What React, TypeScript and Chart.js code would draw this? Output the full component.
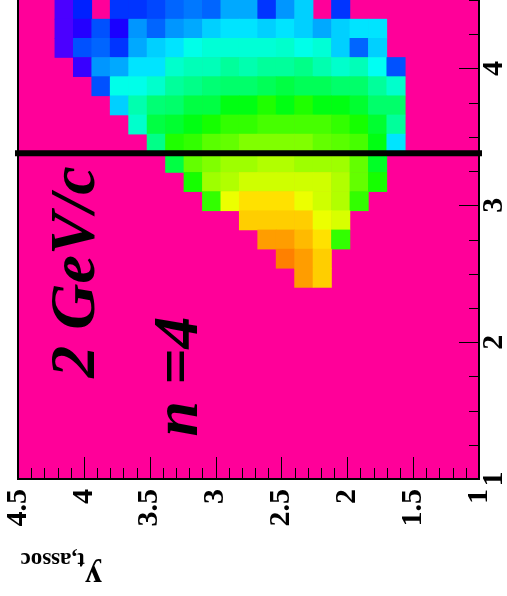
import React, { useEffect, useRef } from 'react';
import { Chart, registerables } from 'chart.js';

Chart.register(...registerables);

// ---- axes / binning ----
const axisMin = 1;
const axisMax = 4.5;
const binWidth = 0.14; // 25 bins between 1 and 4.5
const xTickValues = [1, 1.5, 2, 2.5, 3, 3.5, 4, 4.5];
const yTickValues = [1, 2, 3, 4];
const cutValue = 3.38;

// ---- z values (0 = lowest / violet, 100 = highest / orange) ----
// rows counted from the top of the frame, columns counted from the left edge (x = 4.5)
const rowStart = [2, 2, 2, 3, 4, 5, 6, 7, 8, 9, 10, 12, 13, 14, 15];
const zRow00 = [1, 12, null, 14, 14, 16, 19, 21, 19, 26, 26, 14, 24, 30, null, 14];
const zRow01 = [1, 5, 17, 6, 24, 19, 24, 26, 30, 32, 32, 30, 32, 30, 26, 30, 32, 32];
const zRow02 = [1, 17, 19, 14, 26, 30, 32, 37, 39, 39, 39, 39, 40, 37, 39, 30, 19, 30];
const zRow03 = [3, 24, 26, 32, 32, 40, 42, 42, 45, 43, 45, 45, 47, 43, 40, 42, 36, 17];
const zRow04 = [17, 37, 37, 40, 45, 47, 49, 50, 50, 52, 54, 52, 52, 50, 50, 45, 40];
const zRow05 = [30, 43, 49, 50, 54, 54, 59, 59, 64, 59, 64, 59, 59, 56, 50, 50];
const zRow06 = [40, 54, 56, 59, 63, 66, 66, 68, 68, 68, 68, 66, 63, 56, 45];
const zRow07 = [47, 64, 66, 70, 71, 74, 74, 74, 74, 71, 70, 68, 59, 32];
const zRow08 = [54, 71, 74, 77, 77, 79, 79, 77, 77, 77, 71, 57];
const zRow09 = [63, 77, 79, 82, 82, 82, 82, 82, 79, 71, 63];
const zRow10 = [66, 85, 90, 90, 90, 85, 82, 79, 66];
const zRow11 = [92, 92, 92, 92, 85, 83];
const zRow12 = [97, 97, 94, 90, 66];
const zRow13 = [100, 97, 92];
const zRow14 = [97, 92];
const zRows: (number | null)[][] = [
  zRow00, zRow01, zRow02, zRow03, zRow04, zRow05, zRow06, zRow07,
  zRow08, zRow09, zRow10, zRow11, zRow12, zRow13, zRow14,
];

const PINK = 'rgb(255,0,153)';
const SERIF = '"Liberation Serif", "Times New Roman", serif';

function zColor(z: number | undefined) {
  if (z === undefined || z === null) return PINK;
  return `hsl(${260 - 2.3 * z}, 100%, 50%)`;
}

type Cell = { x: number; y: [number, number]; z: number };
const cells: Cell[] = [];
zRows.forEach((row, r) => {
  row.forEach((z, k) => {
    if (z === null) return;
    const c = rowStart[r] + k;
    cells.push({
      x: axisMax - binWidth * (c + 0.5),
      y: [axisMax - binWidth * (r + 1), axisMax - binWidth * r],
      z,
    });
  });
});

const rootPlugin = {
  id: 'rootStyle',
  beforeDatasetsDraw(chart: any) {
    const { ctx, chartArea: a } = chart;
    ctx.save();
    ctx.fillStyle = PINK;
    ctx.fillRect(a.left, a.top, a.right - a.left, a.bottom - a.top);
    ctx.restore();
  },
  afterDatasetsDraw(chart: any) {
    const { ctx, chartArea: a } = chart;
    const xs = chart.scales.x;
    const ys = chart.scales.y;
    ctx.save();
    // frame
    ctx.strokeStyle = '#000';
    ctx.lineWidth = 2;
    ctx.beginPath();
    ctx.moveTo(a.left, a.top - 5);
    ctx.lineTo(a.left, a.bottom);
    ctx.lineTo(a.right, a.bottom);
    ctx.lineTo(a.right, a.top - 5);
    ctx.stroke();
    // inner ticks
    ctx.lineWidth = 1;
    ctx.beginPath();
    for (let i = 0; i <= 35; i++) {
      const px = Math.round(xs.getPixelForValue(axisMin + i / 10)) + 0.5;
      const len = i % 5 === 0 ? 22 : 11;
      ctx.moveTo(px, a.bottom);
      ctx.lineTo(px, a.bottom - len);
    }
    for (let i = 0; i <= 14; i++) {
      const py = Math.round(ys.getPixelForValue(axisMin + i * 0.25)) + 0.5;
      const len = i % 4 === 0 ? 20 : 10;
      ctx.moveTo(a.right, py);
      ctx.lineTo(a.right - len, py);
    }
    ctx.stroke();

    // annotations
    ctx.fillStyle = '#000';
    ctx.textAlign = 'left';
    ctx.textBaseline = 'alphabetic';
    const rot = (text: string, x: number, y: number) => {
      ctx.save();
      ctx.translate(x, y);
      ctx.rotate(-Math.PI / 2);
      ctx.fillText(text, 0, 0);
      ctx.restore();
    };
    ctx.font = `italic bold 64px ${SERIF}`;
    rot('2 GeV/c', xs.getPixelForValue(3.92), ys.getPixelForValue(1.74));
    rot('n =4', xs.getPixelForValue(3.14), ys.getPixelForValue(1.31));

    // axis title (upside down)
    ctx.save();
    ctx.translate(a.left + 84, a.bottom + 87);
    ctx.rotate(Math.PI);
    ctx.font = `bold 34px ${SERIF}`;
    ctx.fillText('y', 0, 0);
    const w = ctx.measureText('y').width;
    ctx.font = `bold 23px ${SERIF}`;
    ctx.fillText('t,assoc', w, 13.5);
    ctx.restore();

    ctx.restore();
  },
};

export default function App() {
  const ref = useRef<HTMLCanvasElement | null>(null);
  useEffect(() => {
    if (!ref.current) return;
    const tickFont = { family: SERIF, size: 30, weight: 'bold' as const };
    const chart = new Chart(ref.current, {
      type: 'bar',
      data: {
        datasets: [
          {
            type: 'line',
            order: 0,
            data: [
              { x: axisMax, y: cutValue },
              { x: axisMin, y: cutValue },
            ],
            borderColor: '#000',
            borderWidth: 6,
            borderCapStyle: 'square',
            pointRadius: 0,
            clip: false,
          } as any,
          {
            type: 'bar',
            order: 1,
            data: cells as any,
            backgroundColor: (c: any) => zColor(c.raw ? c.raw.z : undefined),
            borderWidth: 0,
            barPercentage: 1,
            categoryPercentage: 1,
          } as any,
        ],
      },
      options: {
        animation: false,
        responsive: false,
        devicePixelRatio: 1,
        layout: { padding: { left: 18, top: -2, right: 0, bottom: 0 } },
        plugins: { legend: { display: false }, tooltip: { enabled: false } },
        scales: {
          x: {
            type: 'linear',
            position: 'bottom',
            reverse: true,
            min: axisMin,
            max: axisMax,
            offset: false,
            grid: { display: false, drawTicks: false, offset: false },
            border: { display: false },
            afterBuildTicks: (s: any) => {
              s.ticks = xTickValues.map((v) => ({ value: v }));
            },
            afterFit: (s: any) => {
              s.height = 117;
              s.paddingLeft = 0;
              s.paddingRight = 0;
              s.paddingTop = 0;
              s.paddingBottom = 0;
            },
            ticks: {
              autoSkip: false,
              minRotation: 90,
              maxRotation: 90,
              padding: 10,
              color: '#000',
              font: tickFont,
              callback: (v: any) => String(v),
            },
          },
          y: {
            type: 'linear',
            position: 'right',
            min: axisMin,
            max: axisMax,
            beginAtZero: false,
            grid: { display: false, drawTicks: false },
            border: { display: false },
            afterBuildTicks: (s: any) => {
              s.ticks = yTickValues.map((v) => ({ value: v }));
            },
            afterFit: (s: any) => {
              s.width = 28;
              s.paddingLeft = 0;
              s.paddingRight = 0;
              s.paddingTop = 0;
              s.paddingBottom = 0;
            },
            ticks: {
              autoSkip: false,
              minRotation: 90,
              maxRotation: 90,
              crossAlign: 'center',
              padding: 8,
              color: '#000',
              font: tickFont,
              callback: (v: any) => String(v),
            },
          },
        },
      } as any,
      plugins: [rootPlugin],
    });
    return () => chart.destroy();
  }, []);

  return (
    <div style={{ position: 'absolute', left: 0, top: 0, width: 507, height: 596 }}>
      <canvas ref={ref} width={507} height={596} style={{ display: 'block' }} />
    </div>
  );
}
